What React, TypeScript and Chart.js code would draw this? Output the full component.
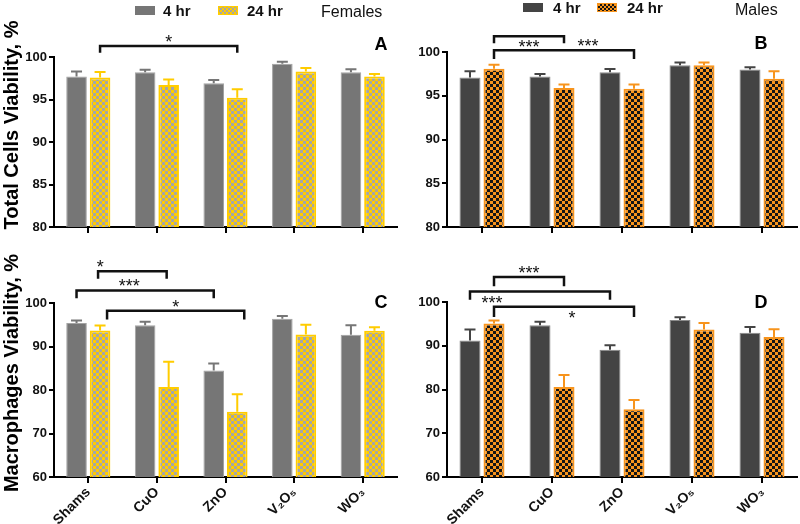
import React, { useEffect, useRef } from "react";
import { Chart, registerables } from "chart.js";

Chart.register(...registerables);

// ---------- data ----------
const categories = ["Shams", "CuO", "ZnO", "V₂O₅", "WO₃"];
const seriesNames = ["4 hr", "24 hr"];

const totalTicksStep = 5; // 80..100
const macroTicksStep = 10; // 60..100

// A: Females, total cells viability
const aHr4 = [97.7, 98.2, 96.9, 99.2, 98.2];
const aHr4Err = [0.6, 0.3, 0.4, 0.25, 0.35];
const aHr24 = [97.6, 96.7, 95.2, 98.3, 97.7];
const aHr24Err = [0.65, 0.65, 1.0, 0.4, 0.3];

// B: Males, total cells viability
const bHr4 = [97.1, 97.2, 97.7, 98.5, 98.0];
const bHr4Err = [0.7, 0.3, 0.35, 0.3, 0.25];
const bHr24 = [98.1, 95.9, 95.8, 98.5, 96.95];
const bHr24Err = [0.45, 0.4, 0.5, 0.3, 0.85];

// C: Females, macrophages viability
const cHr4 = [95.4, 94.9, 84.5, 96.4, 92.7];
const cHr4Err = [0.6, 0.8, 1.6, 0.6, 2.2];
const cHr24 = [93.7, 80.7, 75.0, 92.75, 93.6];
const cHr24Err = [1.1, 5.8, 4.0, 2.25, 0.8];

// D: Males, macrophages viability
const dHr4 = [91.2, 94.7, 89.1, 95.9, 93.0];
const dHr4Err = [2.5, 0.8, 1.0, 0.6, 1.3];
const dHr24 = [95.1, 80.6, 75.5, 93.7, 92.0];
const dHr24Err = [0.7, 2.7, 2.1, 1.5, 1.8];

// significance brackets: from [category, series] to [category, series], top & leg values (data units)
const aBrackets = [{ from: [0, 1], to: [2, 1], top: 101.3, leg: 100.5, label: "*" }];
const bBrackets = [
  { from: [0, 1], to: [1, 1], top: 101.8, leg: 101.0, label: "***" },
  { from: [0, 1], to: [2, 1], top: 100.2, leg: 99.2, label: "***" },
];
const cBrackets = [
  { from: [0, 1], to: [1, 1], top: 107.3, leg: 105.6, label: "*" },
  { from: [0, 0], to: [2, 0], top: 102.9, leg: 101.1, label: "***" },
  { from: [0, 1], to: [2, 1], top: 98.2, leg: 96.2, label: "*" },
];
const dBrackets = [
  { from: [0, 1], to: [1, 1], top: 105.7, leg: 103.6, label: "***" },
  { from: [0, 0], to: [2, 0], top: 102.4, leg: 100.5, label: "***" },
  { from: [0, 1], to: [2, 1], top: 98.9, leg: 96.6, label: "*" },
];

// label placement for brackets (style): side and horizontal shift in px, plus bracket x shift
const aBracketStyle = [{ side: "above", dx: 0, shift: 0 }];
const bBracketStyle = [
  { side: "below", dx: 0, shift: 0 },
  { side: "above", dx: 24, shift: 0 },
];
const cBracketStyle = [
  { side: "above", dx: -32, shift: -2 },
  { side: "above", dx: -16, shift: 0 },
  { side: "above", dx: 0, shift: 7 },
];
const dBracketStyle = [
  { side: "above", dx: 0, shift: 0 },
  { side: "below", dx: -48, shift: 0 },
  { side: "below", dx: 8, shift: 0 },
];

// ---------- styles ----------
const FONT = "'Liberation Sans', Arial, Helvetica, sans-serif";
const FEM_GRAY = "#767676";
const FEM_GRAY_BORDER = "#a3a3a3";
const YELLOW = "#FFCC00";
const YELLOW_CHECK = "#A6A6A6";
const MALE_GRAY = "#444444";
const MALE_GRAY_BORDER = "#8a8a8a";
const ORANGE = "#F7941D";
const ORANGE_CHECK = "#151515";

function checker(base: string, alt: string, cell = 3): CanvasPattern | string {
  const p = document.createElement("canvas");
  p.width = cell * 2;
  p.height = cell * 2;
  const g = p.getContext("2d");
  if (!g) return base;
  g.fillStyle = base;
  g.fillRect(0, 0, cell * 2, cell * 2);
  g.fillStyle = alt;
  g.fillRect(0, 0, cell, cell);
  g.fillRect(cell, cell, cell, cell);
  return g.createPattern(p, "repeat") || base;
}

type PanelCfg = {
  key: string;
  x: number;
  y: number;
  w: number;
  h: number;
  area: { left: number; top: number; right: number; bottom: number };
  min: number;
  max: number;
  step: number;
  showX: boolean;
  v4: number[];
  e4: number[];
  v24: number[];
  e24: number[];
  male: boolean;
  brackets: { from: number[]; to: number[]; top: number; leg: number; label: string }[];
  bracketStyle: { side: string; dx: number; shift: number }[];
  letter: string;
  letterPos: [number, number];
  extras: (ctx: CanvasRenderingContext2D) => void;
};

function legendBox(ctx: CanvasRenderingContext2D, x: number, y: number, w: number, h: number, fill: any, border: string, bw: number) {
  ctx.fillStyle = border;
  ctx.fillRect(x, y, w, h);
  ctx.fillStyle = fill;
  ctx.fillRect(x + bw, y + bw, w - 2 * bw, h - 2 * bw);
}

function rotatedTitle(ctx: CanvasRenderingContext2D, text: string, x: number, y: number) {
  ctx.save();
  ctx.translate(x, y);
  ctx.rotate(-Math.PI / 2);
  ctx.font = `bold 20px ${FONT}`;
  ctx.fillStyle = "#000";
  ctx.textAlign = "center";
  ctx.textBaseline = "alphabetic";
  ctx.fillText(text, 0, 0);
  ctx.restore();
}

function legendText(ctx: CanvasRenderingContext2D, t: string, x: number, y: number, bold: boolean, size: number) {
  ctx.font = `${bold ? "bold " : ""}${size}px ${FONT}`;
  ctx.fillStyle = "#111";
  ctx.textAlign = "left";
  ctx.textBaseline = "alphabetic";
  ctx.fillText(t, x, y);
}

const panels: PanelCfg[] = [
  {
    key: "A", x: 0, y: 0, w: 400, h: 250,
    area: { left: 54, top: 57, right: 397, bottom: 227 },
    min: 80, max: 100, step: totalTicksStep, showX: false,
    v4: aHr4, e4: aHr4Err, v24: aHr24, e24: aHr24Err, male: false,
    brackets: aBrackets, bracketStyle: aBracketStyle,
    letter: "A", letterPos: [381, 50],
    extras: (ctx) => {
      legendBox(ctx, 135, 6, 20, 9, FEM_GRAY, FEM_GRAY, 0);
      legendText(ctx, seriesNames[0], 163, 16, true, 15);
      legendBox(ctx, 218, 6, 20, 9, checker(YELLOW, YELLOW_CHECK, 2), YELLOW, 1);
      legendText(ctx, seriesNames[1], 247, 16, true, 15);
      legendText(ctx, "Females", 321, 17, false, 16);
      rotatedTitle(ctx, "Total Cells Viability, %", 18, 125);
    },
  },
  {
    key: "B", x: 400, y: 0, w: 400, h: 250,
    area: { left: 47, top: 52, right: 397, bottom: 227 },
    min: 80, max: 100, step: totalTicksStep, showX: false,
    v4: bHr4, e4: bHr4Err, v24: bHr24, e24: bHr24Err, male: true,
    brackets: bBrackets, bracketStyle: bBracketStyle,
    letter: "B", letterPos: [761, 49],
    extras: (ctx) => {
      legendBox(ctx, 523, 3, 20, 9, MALE_GRAY, MALE_GRAY, 0);
      legendText(ctx, seriesNames[0], 553, 13, true, 15);
      legendBox(ctx, 597, 3, 20, 9, checker(ORANGE, ORANGE_CHECK, 2), ORANGE, 1);
      legendText(ctx, seriesNames[1], 627, 13, true, 15);
      legendText(ctx, "Males", 735, 15, false, 16);
    },
  },
  {
    key: "C", x: 0, y: 250, w: 400, h: 274,
    area: { left: 54, top: 53, right: 397, bottom: 227 },
    min: 60, max: 100, step: macroTicksStep, showX: true,
    v4: cHr4, e4: cHr4Err, v24: cHr24, e24: cHr24Err, male: false,
    brackets: cBrackets, bracketStyle: cBracketStyle,
    letter: "C", letterPos: [381, 308],
    extras: (ctx) => {
      rotatedTitle(ctx, "Macrophages Viability, %", 18, 373);
    },
  },
  {
    key: "D", x: 400, y: 250, w: 400, h: 274,
    area: { left: 47, top: 52, right: 397, bottom: 227 },
    min: 60, max: 100, step: macroTicksStep, showX: true,
    v4: dHr4, e4: dHr4Err, v24: dHr24, e24: dHr24Err, male: true,
    brackets: dBrackets, bracketStyle: dBracketStyle,
    letter: "D", letterPos: [761, 308],
    extras: () => {},
  },
];

function Panel({ cfg }: { cfg: PanelCfg }) {
  const ref = useRef<HTMLCanvasElement>(null);
  useEffect(() => {
    const canvas = ref.current;
    if (!canvas) return;
    const ctx = canvas.getContext("2d");
    if (!ctx) return;
    const c4 = cfg.male ? MALE_GRAY : FEM_GRAY;
    const c4b = cfg.male ? MALE_GRAY_BORDER : FEM_GRAY_BORDER;
    const c24 = cfg.male ? ORANGE : YELLOW;
    const pat = cfg.male ? checker(ORANGE, ORANGE_CHECK, 3) : checker(YELLOW, YELLOW_CHECK, 3);
    const errs = [cfg.e4, cfg.e24];
    const vals = [cfg.v4, cfg.v24];
    const errColors = [c4, c24];

    const overlay = {
      id: "overlay" + cfg.key,
      afterDraw(chart: any) {
        const g: CanvasRenderingContext2D = chart.ctx;
        const ys = chart.scales.y;
        g.save();
        // error bars
        for (let s = 0; s < 2; s++) {
          const meta = chart.getDatasetMeta(s);
          g.strokeStyle = errColors[s];
          g.lineWidth = 2;
          meta.data.forEach((bar: any, j: number) => {
            const yTop = ys.getPixelForValue(vals[s][j] + errs[s][j]);
            const yBase = bar.y;
            g.beginPath();
            g.moveTo(bar.x, yBase);
            g.lineTo(bar.x, yTop);
            g.moveTo(bar.x - 5.5, yTop);
            g.lineTo(bar.x + 5.5, yTop);
            g.stroke();
          });
        }
        // brackets
        cfg.brackets.forEach((b, i) => {
          const st = cfg.bracketStyle[i];
          const x1 = chart.getDatasetMeta(b.from[1]).data[b.from[0]].x + st.shift;
          const x2 = chart.getDatasetMeta(b.to[1]).data[b.to[0]].x + st.shift;
          const yT = ys.getPixelForValue(b.top);
          const yL = ys.getPixelForValue(b.leg);
          g.strokeStyle = "#111";
          g.lineWidth = 2.5;
          g.lineJoin = "miter";
          g.beginPath();
          g.moveTo(x1, yL);
          g.lineTo(x1, yT);
          g.lineTo(x2, yT);
          g.lineTo(x2, yL);
          g.stroke();
          g.font = `18px ${FONT}`;
          g.fillStyle = "#111";
          g.textAlign = "center";
          g.textBaseline = "alphabetic";
          const ly = st.side === "above" ? yT + 2 : yT + 17;
          g.fillText(b.label, (x1 + x2) / 2 + st.dx, ly);
        });
        // page-coordinate texts
        g.translate(-cfg.x, -cfg.y);
        g.font = `bold 18px ${FONT}`;
        g.fillStyle = "#000";
        g.textAlign = "center";
        g.textBaseline = "alphabetic";
        g.fillText(cfg.letter, cfg.letterPos[0], cfg.letterPos[1]);
        cfg.extras(g);
        g.restore();
      },
    };

    const tickFont = { family: FONT, weight: "bold" as const, size: 13 };
    const xTickFont = { family: FONT, weight: "bold" as const, size: 14 };
    const chart = new Chart(ctx, {
      type: "bar",
      data: {
        labels: categories,
        datasets: [
          {
            label: seriesNames[0],
            data: cfg.v4,
            backgroundColor: c4,
            borderColor: c4b,
            borderWidth: 1,
            categoryPercentage: 0.686,
            barPercentage: 0.875,
          },
          {
            label: seriesNames[1],
            data: cfg.v24,
            backgroundColor: pat as any,
            borderColor: c24,
            borderWidth: 2,
            categoryPercentage: 0.686,
            barPercentage: 0.875,
          },
        ],
      },
      options: {
        responsive: false,
        animation: false,
        layout: {
          padding: { left: 0, top: cfg.area.top, right: cfg.w - cfg.area.right, bottom: 0 },
        },
        plugins: { legend: { display: false }, tooltip: { enabled: false } },
        scales: {
          x: {
            grid: {
              display: true,
              drawOnChartArea: false,
              drawTicks: true,
              tickLength: 6,
              offset: false,
              color: "#000",
              lineWidth: 2,
            },
            border: { display: true, color: "#000", width: 2 },
            ticks: {
              display: cfg.showX,
              font: xTickFont,
              color: "#111",
              minRotation: 45,
              maxRotation: 45,
              padding: 1,
              autoSkip: false,
            },
            afterFit: (s: any) => {
              s.height = cfg.h - cfg.area.bottom;
            },
          },
          y: {
            min: cfg.min,
            max: cfg.max,
            ticks: { stepSize: cfg.step, font: tickFont, color: "#111", padding: 2 },
            grid: {
              display: true,
              drawOnChartArea: false,
              drawTicks: true,
              tickLength: 5,
              color: "#000",
              lineWidth: 2,
            },
            border: { display: true, color: "#000", width: 2 },
            afterFit: (s: any) => {
              s.width = cfg.area.left;
            },
          },
        },
      },
      plugins: [overlay],
    });
    return () => chart.destroy();
  }, [cfg]);
  return (
    <canvas
      ref={ref}
      width={cfg.w}
      height={cfg.h}
      style={{ position: "absolute", left: cfg.x, top: cfg.y, width: cfg.w, height: cfg.h }}
    />
  );
}

export default function App() {
  return (
    <div style={{ position: "fixed", left: 0, top: 0, width: 800, height: 524, background: "#fff", overflow: "hidden" }}>
      {panels.map((p) => (
        <Panel key={p.key} cfg={p} />
      ))}
    </div>
  );
}
